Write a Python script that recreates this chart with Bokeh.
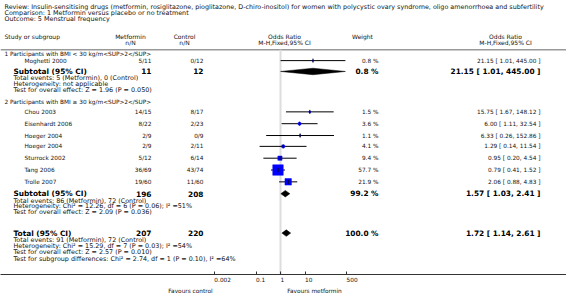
import numpy as np
from bokeh.plotting import figure
from bokeh.models import (Range1d, LinearScale, FixedTicker, CustomJSTickFormatter,
                          LogAxis, ColumnDataSource, AllLabels)
from bokeh.core.properties import value
from bokeh.embed import file_html
from bokeh.resources import INLINE

# ---------------- data ----------------
title_lines = [
    "Review:  Insulin-sensitising drugs (metformin, rosiglitazone, pioglitazone, D-chiro-inositol) for women with polycystic ovary syndrome, oligo amenorrhoea and subfertility",
    "Comparison:  1 Metformin versus placebo or no treatment",
    "Outcome:  5 Menstrual frequency",
]
group_titles = ["1 Participants with BMI < 30 kg/m<SUP>2</SUP>",
                "2 Participants with BMI \u2265 30 kg/m<SUP>2</SUP>"]

studies = ["Moghetti 2000", "Chou 2003", "Eisenhardt 2006", "Hoeger 2004",
           "Hoeger 2004", "Sturrock 2002", "Tang 2006", "Trolle 2007"]
met_events = [5, 14, 8, 2, 2, 5, 36, 19]
met_total = [11, 15, 22, 9, 9, 12, 69, 60]
ctl_events = [0, 8, 2, 0, 2, 6, 43, 11]
ctl_total = [12, 17, 23, 9, 11, 14, 74, 60]
weight = [0.8, 1.5, 3.6, 1.1, 4.1, 9.4, 57.7, 21.9]
or_est = [21.15, 15.75, 6.00, 6.33, 1.29, 0.95, 0.79, 2.06]
or_lo = [1.01, 1.67, 1.11, 0.26, 0.14, 0.20, 0.41, 0.88]
or_hi = [445.00, 148.12, 32.54, 152.86, 11.54, 4.54, 1.52, 4.83]

pooled_labels = ["Subtotal (95% CI)", "Subtotal (95% CI)", "Total (95% CI)"]
pooled_met_n = [11, 196, 207]
pooled_ctl_n = [12, 208, 220]
pooled_weight = [0.8, 99.2, 100.0]
pooled_est = [21.15, 1.57, 1.72]
pooled_lo = [1.01, 1.03, 1.14]
pooled_hi = [445.00, 2.41, 2.61]

stats_sub1 = ["Total events: 5 (Metformin), 0 (Control)",
              "Heterogeneity: not applicable",
              "Test for overall effect: Z = 1.96 (P = 0.050)"]
stats_sub2 = ["Total events: 86 (Metformin), 72 (Control)",
              "Heterogeneity: Chi\u00b2 = 12.26, df = 6 (P = 0.06); I\u00b2 =51%",
              "Test for overall effect: Z = 2.09 (P = 0.036)"]
stats_total = ["Total events: 91 (Metformin), 72 (Control)",
               "Heterogeneity: Chi\u00b2 = 15.29, df = 7 (P = 0.03); I\u00b2 =54%",
               "Test for overall effect: Z = 2.57 (P = 0.010)",
               "Test for subgroup differences: Chi\u00b2 = 2.74, df = 1 (P = 0.10), I\u00b2 =64%"]

axis_ticks = [0.002, 0.1, 1, 10, 500]
favours_left = "Favours control"
favours_right = "Favours metformin"

# ---------------- layout ----------------
W, H = 566, 296
FRAME_H = 278
X_ONE = 280.0      # pixel column of OR = 1
DECADE = 24.5      # pixels per decade
FONT = "DejaVu Sans"
TITLE = "6.4px"
HEAD = "6px"
ROW = "5.8px"
NOTE = "6.4px"
BIG = "7.4px"
TICK = "5.8px"
COL = "#111111"

study_y = [61, 113, 125, 137, 148, 160, 172, 184]
pooled_y = [72, 196, 236]
X_NAME, X_POOL, X_MET, X_CTL, X_WT, X_OR = 24, 13, 151, 203, 378, 540


def px_to_or(px):
    return 10 ** ((px - X_ONE) / DECADE)


p = figure(width=W, height=H, x_axis_type="log",
           x_range=Range1d(px_to_or(0), px_to_or(W)), y_range=Range1d(FRAME_H, 0),
           output_backend="svg", toolbar_location=None,
           min_border_left=0, min_border_right=0, min_border_top=0,
           min_border_bottom=H - FRAME_H, y_axis_location=None)
p.outline_line_color = None
p.xgrid.visible = False
p.ygrid.visible = False
p.background_fill_color = "white"
p.border_fill_color = "white"
p.extra_x_ranges = {"px": Range1d(0, W)}
p.extra_x_scales = {"px": LinearScale()}

ax = p.xaxis[0]
ax.ticker = FixedTicker(ticks=axis_ticks)
ax.formatter = CustomJSTickFormatter(code="return tick.toString()")
ax.major_label_policy = AllLabels()
ax.major_tick_in = 3
ax.major_tick_out = 0
ax.minor_tick_in = 0
ax.minor_tick_out = 0
ax.major_label_standoff = 5
ax.major_label_text_font = FONT
ax.major_label_text_font_size = TICK
ax.major_label_text_color = COL
ax.major_label_orientation = -0.0001   # tiny angle -> labels left-aligned at ticks
ax.axis_line_color = "#333333"
ax.major_tick_line_color = "#333333"

# "Favours" captions as a second, line-less axis below the first
fav_centers = [px_to_or(190), px_to_or(314)]
fav_axis = LogAxis(ticker=FixedTicker(ticks=fav_centers),
                   formatter=CustomJSTickFormatter(
                       args=dict(a=favours_left, b=favours_right),
                       code="return tick < 1 ? a : b"),
                   major_label_policy=AllLabels())
fav_axis.axis_line_color = None
fav_axis.major_tick_in = 0
fav_axis.major_tick_out = 0
fav_axis.minor_tick_in = 0
fav_axis.minor_tick_out = 0
fav_axis.major_label_standoff = 0
fav_axis.major_label_text_font = FONT
fav_axis.major_label_text_font_size = ROW
fav_axis.major_label_text_color = COL
p.add_layout(fav_axis, "below")


def txt(xs, ys, texts, align="left", size=ROW, style="normal", color=COL):
    src = ColumnDataSource(dict(x=xs, y=ys, t=texts))
    p.text("x", "y", "t", source=src, x_range_name="px", text_align=align,
           text_baseline="middle", text_font=value(FONT), text_font_size=size,
           text_font_style=style, text_color=color)


# title
txt([4] * 3, [7, 13, 19], title_lines, size=TITLE)
# headers
txt([4], [37], ["Study or subgroup"], size=HEAD)
txt([130, 130, 184, 184, 284, 284, 362, 505, 505],
    [37, 43, 37, 43, 37, 43, 37, 37, 43],
    ["Metformin", "n/N", "Control", "n/N", "Odds Ratio", "M-H,Fixed,95% CI",
     "Weight", "Odds Ratio", "M-H,Fixed,95% CI"], align="center", size=HEAD)
# separator line under header
p.segment(x0=[0], x1=[W], y0=[50], y1=[50], x_range_name="px",
          line_color="#999999", line_width=1.5)
# vertical line at OR = 1
p.segment(x0=[1], x1=[1], y0=[50], y1=[FRAME_H], line_color="#dddddd", line_width=2)

# group titles
txt([4, 4], [54, 103], group_titles)

# study rows
txt([X_NAME] * len(studies), study_y, studies)
txt([X_MET] * len(studies), study_y,
    [f"{e}/{n}" for e, n in zip(met_events, met_total)], align="right")
txt([X_CTL] * len(studies), study_y,
    [f"{e}/{n}" for e, n in zip(ctl_events, ctl_total)], align="right")
txt([X_WT] * len(studies), study_y, [f"{w:.1f} %" for w in weight], align="right")
txt([X_OR] * len(studies), study_y,
    [f"{e:.2f} [ {l:.2f}, {h:.2f} ]" for e, l, h in zip(or_est, or_lo, or_hi)],
    align="right")

# pooled rows
txt([X_POOL] * 3, pooled_y, pooled_labels, size=BIG, style="bold", color="black")
txt([X_MET] * 3, pooled_y, [str(v) for v in pooled_met_n], align="right",
    size=BIG, style="bold", color="black")
txt([X_CTL] * 3, pooled_y, [str(v) for v in pooled_ctl_n], align="right",
    size=BIG, style="bold", color="black")
txt([X_WT] * 3, pooled_y, [f"{w:.1f} %" for w in pooled_weight], align="right",
    size=BIG, style="bold", color="black")
txt([X_OR] * 3, pooled_y,
    [f"{e:.2f} [ {l:.2f}, {h:.2f} ]" for e, l, h in zip(pooled_est, pooled_lo, pooled_hi)],
    align="right", size=BIG, style="bold", color="black")

# stats text
txt([X_POOL] * 3, [79, 85, 91], stats_sub1, size=NOTE)
txt([X_POOL] * 3, [203, 209, 215], stats_sub2, size=NOTE)
txt([X_POOL] * 4, [243, 249, 255, 262], stats_total, size=NOTE)

# CI lines
p.segment(x0=or_lo, x1=or_hi, y0=study_y, y1=study_y, line_color="black", line_width=1)
# weight squares
p.scatter(x=or_est, y=study_y, marker="square",
          size=[1.38 * np.sqrt(w) for w in weight],
          fill_color="#0000ff", line_color="#0000ff", line_width=0.5)
# point ticks
p.scatter(x=or_est, y=study_y, marker="dash", angle=np.pi / 2, size=4,
          line_color="black", line_width=1)
# diamonds
half_h = 3.3
xs = [[l, e, h, e] for l, e, h in zip(pooled_lo, pooled_est, pooled_hi)]
ys = [[y, y - half_h, y, y + half_h] for y in pooled_y]
p.patches(xs, ys, fill_color="black", line_color="black", line_width=0.5)

open("out.html", "w").write(file_html(p, INLINE))
